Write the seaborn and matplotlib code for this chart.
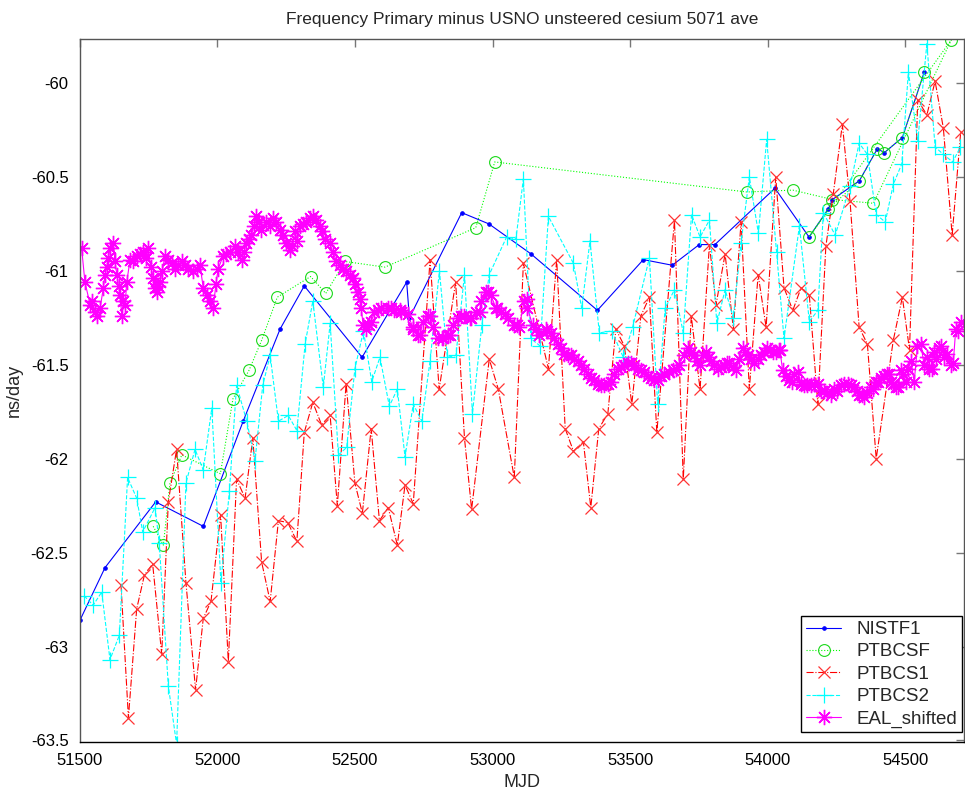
import numpy as np
import pandas as pd
import matplotlib
matplotlib.use("Agg")
import matplotlib.pyplot as plt
import seaborn as sns

# ---------------- data ----------------
nist_x = [51501, 51592, 51776, 51949, 52094, 52228, 52316, 52526, 52688, 52698,
          52888, 52987, 53140, 53381, 53548, 53653, 53751, 53808, 54026, 54150,
          54220, 54235, 54333, 54398, 54424, 54489, 54569]
nist_y = [-62.86, -62.58, -62.23, -62.36, -61.80, -61.31, -61.08, -61.46, -61.06, -61.25,
          -60.69, -60.75, -60.91, -61.21, -60.94, -60.97, -60.86, -60.86, -60.56, -60.82,
          -60.67, -60.62, -60.52, -60.35, -60.37, -60.29, -59.94]

csf_x = [51767, 51804, 51828, 51871, 52011, 52057, 52115, 52161, 52218, 52339,
         52394, 52464, 52609, 52939, 53008, 53924, 54091, 54235, 54384, 54667,
         54150, 54220, 54333, 54398, 54424, 54489, 54569]
csf_y = [-62.36, -62.46, -62.13, -61.98, -62.08, -61.68, -61.53, -61.37, -61.14, -61.03,
         -61.12, -60.95, -60.98, -60.77, -60.42, -60.58, -60.57, -60.62, -60.64, -59.77,
         -60.82, -60.67, -60.52, -60.35, -60.37, -60.29, -59.94]

cs1_x = [51650, 51677, 51707, 51735, 51765, 51798, 51822, 51852, 51886, 51921,
         51949, 51977, 52012, 52040, 52070, 52101, 52129, 52161, 52192, 52222,
         52256, 52289, 52316, 52347, 52379, 52410, 52436, 52468, 52500, 52527,
         52559, 52589, 52621, 52654, 52682, 52712, 52773, 52806, 52866, 52898,
         52924, 52988, 53021, 53079, 53112, 53203, 53233, 53264, 53294, 53330,
         53357, 53386, 53419, 53448, 53479, 53506, 53539, 53570, 53597, 53661,
         53693, 53722, 53754, 53788, 53812, 53845, 53875, 53903, 53933, 53965,
         53994, 54029, 54059, 54091, 54121, 54151, 54182, 54211, 54238, 54271,
         54299, 54332, 54362, 54394, 54456, 54489, 54515, 54545, 54578, 54608,
         54638, 54670, 54701]
cs1_y = [-62.67, -63.38, -62.80, -62.62, -62.56, -63.04, -62.23, -61.95, -62.66, -63.23,
         -62.85, -62.76, -62.30, -63.08, -62.11, -62.21, -61.89, -62.55, -62.76, -62.33,
         -62.34, -62.44, -61.86, -61.70, -61.82, -61.77, -62.25, -61.60, -62.13, -62.29,
         -61.84, -62.33, -62.26, -62.46, -62.14, -62.24, -60.94, -61.63, -61.06, -61.89,
         -62.27, -61.47, -61.63, -62.10, -60.96, -61.52, -60.94, -61.84, -61.96, -61.91,
         -62.26, -61.84, -61.76, -61.31, -61.40, -61.71, -61.24, -61.14, -61.86, -60.73,
         -62.11, -61.24, -61.63, -60.86, -61.18, -60.91, -61.31, -60.74, -61.63, -61.02,
         -61.30, -60.50, -61.09, -61.21, -61.09, -61.13, -61.71, -60.87, -60.59, -60.22,
         -60.63, -61.30, -61.39, -62.00, -61.37, -61.14, -61.42, -60.09, -60.17, -59.99,
         -60.24, -60.81, -60.26]

cs2_x = [51516, 51549, 51580, 51610, 51644, 51674, 51707, 51729, 51774, 51789,
         51822, 51852, 51886, 51919, 51949, 51980, 52013, 52044, 52070, 52107,
         52137, 52165, 52192, 52222, 52258, 52289, 52319, 52347, 52385, 52410,
         52440, 52470, 52500, 52531, 52561, 52591, 52625, 52654, 52682, 52712,
         52743, 52773, 52807, 52836, 52867, 52898, 52927, 52961, 52988, 53051,
         53085, 53112, 53139, 53173, 53203, 53294, 53324, 53354, 53388, 53433,
         53475, 53509, 53570, 53600, 53627, 53661, 53693, 53723, 53754, 53788,
         53815, 53845, 53875, 53903, 53933, 53966, 53996, 54032, 54059, 54115,
         54151, 54182, 54202, 54245, 54299, 54332, 54362, 54394, 54427, 54456,
         54487, 54511, 54545, 54578, 54608, 54638, 54672, 54700]
cs2_y = [-62.73, -62.78, -62.71, -63.07, -62.94, -62.10, -62.21, -62.39, -62.26, -62.45,
         -63.21, -63.52, -62.13, -61.95, -62.06, -61.73, -62.66, -62.17, -61.61, -61.80,
         -62.01, -61.61, -61.45, -61.80, -61.77, -61.85, -61.39, -61.16, -61.62, -61.28,
         -61.98, -61.94, -61.52, -61.32, -61.59, -61.46, -61.72, -61.63, -61.99, -61.71,
         -61.80, -61.48, -61.00, -61.46, -61.45, -61.02, -61.76, -61.29, -61.02, -60.82,
         -60.83, -60.51, -61.36, -61.40, -60.71, -60.96, -61.20, -60.84, -61.33, -61.32,
         -61.46, -61.30, -60.93, -61.71, -61.20, -61.10, -61.33, -60.70, -60.82, -60.73,
         -61.28, -61.10, -61.25, -60.85, -60.50, -60.80, -60.30, -60.90, -61.36, -60.76,
         -61.27, -61.21, -60.69, -60.81, -60.55, -60.32, -60.38, -60.70, -60.74, -60.54,
         -60.43, -59.94, -60.31, -59.79, -60.34, -60.38, -60.42, -60.34]

# EAL_shifted: main trace
eal_x = [51507, 51519, 51544, 51562, 51574, 51586, 51598, 51610, 51622, 51628,
         51635, 51647, 51653, 51659, 51671, 51683, 51707, 51731, 51749, 51768,
         51780, 51792, 51810, 51822, 51846, 51870, 51894, 51925, 51937, 51949,
         51973, 51985, 52003, 52021, 52045, 52063, 52088, 52106, 52124, 52142,
         52160, 52178, 52203, 52227, 52251, 52263, 52282, 52300, 52324, 52348,
         52372, 52390, 52408, 52433, 52457, 52481, 52493, 52511, 52523, 52530,
         52541, 52559, 52571, 52595, 52619, 52643, 52668, 52692, 52710, 52728,
         52746, 52764, 52782, 52801, 52819, 52837, 52855, 52873, 52897, 52922,
         52940, 52958, 52976, 52994, 53013, 53031, 53055, 53079, 53097, 53115,
         53127, 53146, 53170, 53194, 53212, 53237, 53261, 53285, 53309, 53334,
         53358, 53382, 53406, 53430, 53455, 53479, 53503, 53527, 53552, 53576,
         53600, 53624, 53654, 53679, 53709, 53733, 53752, 53776, 53794, 53818,
         53842, 53860, 53884, 53909, 53927, 53951, 53975, 53999, 54018, 54042,
         54054, 54078, 54096, 54120, 54144, 54169, 54193, 54217, 54241, 54265,
         54290, 54314, 54332, 54350, 54374, 54392, 54411, 54435, 54447, 54465,
         54483, 54501, 54520, 54544, 54568, 54586, 54604, 54622, 54640, 54665,
         54683, 54701]
eal_y = [-60.88, -61.06, -61.16, -61.24, -61.20, -61.09, -60.98, -60.88, -60.85, -60.95,
         -61.02, -61.13, -61.24, -61.16, -61.06, -60.94, -60.92, -60.90, -60.88, -61.04,
         -61.11, -61.06, -60.92, -60.94, -60.99, -60.95, -60.99, -60.99, -60.97, -61.09,
         -61.16, -61.20, -60.99, -60.92, -60.90, -60.87, -60.94, -60.85, -60.81, -60.71,
         -60.78, -60.74, -60.72, -60.78, -60.85, -60.89, -60.79, -60.76, -60.74, -60.71,
         -60.76, -60.83, -60.85, -60.95, -60.99, -61.02, -61.04, -61.11, -61.20, -61.29,
         -61.31, -61.27, -61.22, -61.20, -61.20, -61.21, -61.22, -61.23, -61.30, -61.34,
         -61.27, -61.24, -61.30, -61.36, -61.36, -61.34, -61.29, -61.25, -61.24, -61.25,
         -61.22, -61.16, -61.11, -61.13, -61.20, -61.22, -61.25, -61.29, -61.30, -61.16,
         -61.20, -61.29, -61.34, -61.31, -61.33, -61.39, -61.44, -61.45, -61.48, -61.52,
         -61.57, -61.60, -61.61, -61.59, -61.52, -61.50, -61.49, -61.52, -61.54, -61.57,
         -61.58, -61.55, -61.53, -61.50, -61.41, -61.45, -61.50, -61.43, -61.48, -61.52,
         -61.50, -61.49, -61.53, -61.41, -61.45, -61.49, -61.45, -61.41, -61.43, -61.42,
         -61.53, -61.58, -61.55, -61.60, -61.61, -61.60, -61.64, -61.65, -61.63, -61.61,
         -61.60, -61.62, -61.66, -61.67, -61.62, -61.59, -61.57, -61.55, -61.59, -61.62,
         -61.53, -61.59, -61.48, -61.40, -61.50, -61.52, -61.43, -61.41, -61.46, -61.50,
         -61.31, -61.27]
# EAL_shifted: extra points read between the main trace points
eal_x2 = [51538, 51556, 51592, 51604, 51641, 51665, 51695, 51719, 51740, 51758,
          51774, 51786, 51800, 51834, 51858, 51882, 51910, 51961, 51995, 52033,
          52075, 52097, 52115, 52133, 52151, 52190, 52215, 52239, 52272, 52291,
          52312, 52336, 52360, 52381, 52420, 52445, 52469, 52502, 52517, 52550,
          52583, 52631, 52664, 52712, 52737, 52773, 52815, 52846, 52885, 52918,
          52955, 52985, 53015, 53045, 53088, 53124, 53158, 53197, 53224, 53248,
          53275, 53297, 53321, 53346, 53370, 53394, 53418, 53442, 53467, 53491,
          53515, 53539, 53564, 53588, 53612, 53640, 53666, 53694, 53721, 53742,
          53764, 53785, 53806, 53830, 53851, 53872, 53896, 53918, 53939, 53963,
          53987, 54008, 54030, 54044, 54066, 54087, 54111, 54132, 54156, 54181,
          54205, 54229, 54253, 54278, 54302, 54323, 54341, 54362, 54383, 54402,
          54423, 54441, 54456, 54474, 54492, 54511, 54532, 54556, 54577, 54595,
          54613, 54631, 54652, 54674, 54692]
eal_y2 = [-61.18, -61.22, -61.02, -60.93, -61.08, -61.18, -60.95, -60.91, -60.93, -60.98,
          -61.09, -61.08, -61.00, -60.96, -60.97, -60.97, -61.00, -61.13, -61.07, -60.91,
          -60.90, -60.90, -60.83, -60.76, -60.74, -60.76, -60.74, -60.81, -60.87, -60.84,
          -60.75, -60.72, -60.73, -60.79, -60.90, -60.97, -61.00, -61.07, -61.15, -61.29,
          -61.21, -61.20, -61.21, -61.31, -61.34, -61.24, -61.36, -61.34, -61.24, -61.25,
          -61.22, -61.11, -61.20, -61.23, -61.29, -61.15, -61.31, -61.32, -61.36, -61.41,
          -61.45, -61.47, -61.50, -61.55, -61.58, -61.61, -61.60, -61.55, -61.51, -61.49,
          -61.50, -61.53, -61.56, -61.58, -61.56, -61.54, -61.52, -61.45, -61.43, -61.48,
          -61.45, -61.46, -61.50, -61.51, -61.49, -61.51, -61.47, -61.43, -61.47, -61.47,
          -61.43, -61.42, -61.43, -61.42, -61.56, -61.59, -61.54, -61.61, -61.61, -61.60,
          -61.64, -61.66, -61.64, -61.60, -61.61, -61.64, -61.66, -61.65, -61.63, -61.59,
          -61.56, -61.55, -61.60, -61.62, -61.55, -61.52, -61.59, -61.39, -61.46, -61.52,
          -61.47, -61.40, -61.44, -61.49, -61.32]

yticks = [-63.5, -63, -62.5, -62, -61.5, -61, -60.5, -60]
ytick_labels = ["-63.5", "-63", "-62.5", "-62", "-61.5", "-61", "-60.5", "-60"]
xticks = [51500, 52000, 52500, 53000, 53500, 54000, 54500]
xtick_labels = ["51500", "52000", "52500", "53000", "53500", "54000", "54500"]

eal = pd.DataFrame({"MJD": eal_x + eal_x2, "val": eal_y + eal_y2}).sort_values("MJD")

# ---------------- style ----------------
sns.set_style("white")
plt.rcParams["font.family"] = ["Liberation Sans", "DejaVu Sans"]
plt.rcParams["axes.unicode_minus"] = False

fig = plt.figure(figsize=(9.65, 7.92), dpi=100)
ax = fig.add_axes([79.7 / 965, 1 - 742.3 / 792, (964 - 79.7) / 965, (742.3 - 39.3) / 792])

common = dict(ax=ax, sort=False, estimator=None, linewidth=0.8)

sns.lineplot(x=nist_x, y=nist_y, color=(0, 0, 1), linestyle="-", marker=".",
             markersize=5, markeredgecolor=(0, 0, 1), markerfacecolor=(0, 0, 1),
             markeredgewidth=0.8, label="NISTF1", **common)
sns.lineplot(x=csf_x, y=csf_y, color=(0, 1, 0), linestyle=":", marker="o",
             markersize=8.5, markeredgecolor=(0.1, 0.85, 0.1), markerfacecolor="none",
             markeredgewidth=0.8, label="PTBCSF", **common)
sns.lineplot(x=cs1_x, y=cs1_y, color=(1, 0, 0), linestyle="-.", marker="x",
             markersize=8, markeredgecolor=(1, 0.2, 0.2), markeredgewidth=0.9,
             label="PTBCS1", **common)
sns.lineplot(x=cs2_x, y=cs2_y, color=(0, 1, 1), linestyle="--", marker="+",
             markersize=11, markeredgecolor=(0, 1, 1), markeredgewidth=0.9,
             label="PTBCS2", **common)
sns.lineplot(x=eal["MJD"].to_numpy(), y=eal["val"].to_numpy(), color=(1, 0, 1),
             linestyle="-", marker=(8, 2, 0), markersize=11,
             markeredgecolor=(1, 0, 1), markeredgewidth=1.0,
             label="EAL_shifted", **common)

ax.set_xlim(51500, 54713)
ax.set_ylim(-63.51, -59.767)
ax.set_xticks(xticks)
ax.set_xticklabels(xtick_labels)
ax.set_yticks(yticks)
ax.set_yticklabels(ytick_labels)
ax.tick_params(direction="in", length=6, width=1, color="#777777",
               top=True, right=True, labelsize=12, pad=8, labelcolor="black")
for s in ax.spines.values():
    s.set_visible(True)
    s.set_color("#555555")
    s.set_linewidth(1.0)
ax.spines["bottom"].set_color("black")

ax.set_title("Frequency Primary minus USNO unsteered cesium 5071 ave", fontsize=12.5, pad=11)
ax.set_xlabel("MJD", fontsize=13, labelpad=4)
ax.set_ylabel("ns/day", fontsize=13, labelpad=6)

leg = ax.legend(loc="lower right", bbox_to_anchor=(0.9975, 0.014), fontsize=13.5,
                frameon=True, fancybox=False, edgecolor="black", framealpha=1,
                handlelength=1.9, borderpad=0.25, labelspacing=0.28, handletextpad=0.8,
                borderaxespad=0)
leg.get_frame().set_linewidth(1.0)

fig.savefig("out.png", dpi=100)
